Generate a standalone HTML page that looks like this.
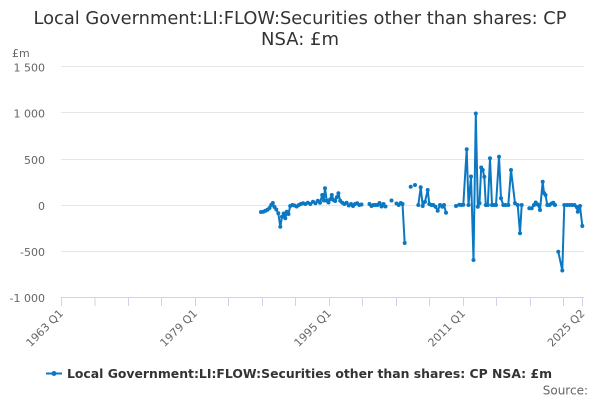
<!DOCTYPE html>
<html>
<head>
<meta charset="utf-8">
<style>
  html, body { margin:0; padding:0; background:#ffffff; }
  svg { display:block; }
  text { font-family: "DejaVu Sans", "Liberation Sans", sans-serif; }
</style>
</head>
<body>
<svg width="600" height="400" viewBox="0 0 600 400" xmlns="http://www.w3.org/2000/svg">
  <rect x="0" y="0" width="600" height="400" fill="#ffffff"/>

  <!-- Title -->
  <text x="300" y="24" text-anchor="middle" font-size="18" fill="#333333" textLength="533" lengthAdjust="spacingAndGlyphs">Local Government:LI:FLOW:Securities other than shares: CP</text>
  <text x="300" y="45" text-anchor="middle" font-size="18" fill="#333333">NSA: £m</text>

  <!-- Y axis title -->
  <text x="12" y="57" font-size="11" fill="#666666">£m</text>

  <!-- Gridlines -->
  <g stroke="#e6e6e6" stroke-width="1">
    <line x1="61" y1="66.5" x2="584" y2="66.5"/>
    <line x1="61" y1="112.5" x2="584" y2="112.5"/>
    <line x1="61" y1="159.5" x2="584" y2="159.5"/>
    <line x1="61" y1="205.5" x2="584" y2="205.5"/>
    <line x1="61" y1="251.5" x2="584" y2="251.5"/>
  </g>

  <!-- Y labels -->
  <g font-size="11" fill="#666666" text-anchor="end">
    <text x="45" y="71.5">1 500</text>
    <text x="45" y="117.5">1 000</text>
    <text x="45" y="164">500</text>
    <text x="45" y="210">0</text>
    <text x="45" y="256">-500</text>
    <text x="45" y="302">-1 000</text>
  </g>

  <!-- X axis line and ticks -->
  <g stroke="#ccd6eb" stroke-width="1">
    <line x1="61" y1="297.5" x2="584" y2="297.5"/>
    <line x1="61.5" y1="297.5" x2="61.5" y2="306"/>
    <line x1="95" y1="297.5" x2="95" y2="306"/>
    <line x1="128.5" y1="297.5" x2="128.5" y2="306"/>
    <line x1="161.5" y1="297.5" x2="161.5" y2="306"/>
    <line x1="195.5" y1="297.5" x2="195.5" y2="306"/>
    <line x1="228.5" y1="297.5" x2="228.5" y2="306"/>
    <line x1="262.5" y1="297.5" x2="262.5" y2="306"/>
    <line x1="295.5" y1="297.5" x2="295.5" y2="306"/>
    <line x1="329.5" y1="297.5" x2="329.5" y2="306"/>
    <line x1="362.5" y1="297.5" x2="362.5" y2="306"/>
    <line x1="396.5" y1="297.5" x2="396.5" y2="306"/>
    <line x1="429.5" y1="297.5" x2="429.5" y2="306"/>
    <line x1="463.5" y1="297.5" x2="463.5" y2="306"/>
    <line x1="496.5" y1="297.5" x2="496.5" y2="306"/>
    <line x1="530.5" y1="297.5" x2="530.5" y2="306"/>
    <line x1="563.5" y1="297.5" x2="563.5" y2="306"/>
    <line x1="582.5" y1="297.5" x2="582.5" y2="306"/>
  </g>

  <!-- X labels -->
  <g font-size="11" fill="#666666" text-anchor="end">
    <text transform="translate(64,314) rotate(-45)">1963 Q1</text>
    <text transform="translate(198,314) rotate(-45)">1979 Q1</text>
    <text transform="translate(332,314) rotate(-45)">1995 Q1</text>
    <text transform="translate(466,314) rotate(-45)">2011 Q1</text>
    <text transform="translate(585.5,314) rotate(-45)">2025 Q2</text>
  </g>

  <!-- Series -->
  <g fill="none" stroke="#0a78c2" stroke-width="2" stroke-linejoin="round" stroke-linecap="round">
    <polyline id="sA" points="261,212 263.3,211.7 265.5,210.8 267.5,209.8 269.5,208 271.2,205 272.8,203 274.5,207 276.3,209.5 278.3,213.3 280.3,226.7 282,216.7 283.7,213.5 285.3,218.3 286.8,211.7 288.5,214 290.2,206 292.3,205 294.5,205.5 296.7,206.5 298.8,205 300.8,204 303,203.3 305.3,204 307.8,202.7 310.3,204 313,201.7 315.5,203.3 317.8,200.7 320,202.7 322.2,195 323.8,200.5 325,188.3 326.8,200.7 328.5,202.5 330.2,199.3 331.8,195 333.5,200 335.2,201 336.8,197.3 338.4,193.3 340.2,200.7 342.3,202.7 344.4,204 346.6,202.7 348.8,205.5 351,204 353,206 355,204 357.2,203.3 359.3,205 361.5,204.5"/>
    <polyline points="369.5,204 371.5,206 373.5,205 375.5,205 377.5,205 379.5,203 381.5,206.5 383.5,204 385.5,206.5"/>
    <polyline points="396.5,203.5 398.7,205 400.8,203 402.5,204 404.7,243"/>
    <polyline points="418.3,205 420.7,187.3 422.7,206 425,201.7 427.7,190 429.3,204 431.3,205 433.3,205 435.5,206.7 437.7,210.7 440,205 442.3,206.7 444,205 446,212.7"/>
    <polyline points="456,206 459.3,204.8 461.3,205 463.3,204.8 466.7,149.3 468.5,205 471,176.5 473.5,260 475.8,113.5 477.8,206.7 479.5,203.3 481.2,167.5 482.8,170 484.3,176.7 485.8,205 487.8,205 490,158.3 492,205 494,205 496,205 499,156.7 501,198.3 503.3,205 505.5,205 508.3,205 511,170 515,203.3 517.7,205 520,233.3 521.7,205"/>
    <polyline points="529.3,208.3 531.7,208.3 534,205 535.7,202.5 537.7,204.5 540,210 542.7,181.7 544,193 545.5,195 547.3,205 549.5,205 551.5,203.5 553.3,202.7 555,205"/>
    <polyline points="558.3,251.7 562.3,270.5 564.3,205 567,205 569.5,205 572,205 574.5,205 576.7,207 577.8,211.7 580,206 582.3,226"/>
  </g>

  <!-- Markers -->
  <g fill="#0a78c2">
    <circle cx="261" cy="212" r="2"/><circle cx="263.3" cy="211.7" r="2"/><circle cx="265.5" cy="210.8" r="2"/><circle cx="267.5" cy="209.8" r="2"/><circle cx="269.5" cy="208" r="2"/><circle cx="271.2" cy="205" r="2"/><circle cx="272.8" cy="203" r="2"/><circle cx="274.5" cy="207" r="2"/><circle cx="276.3" cy="209.5" r="2"/><circle cx="278.3" cy="213.3" r="2"/><circle cx="280.3" cy="226.7" r="2"/><circle cx="282" cy="216.7" r="2"/><circle cx="283.7" cy="213.5" r="2"/><circle cx="285.3" cy="218.3" r="2"/><circle cx="286.8" cy="211.7" r="2"/><circle cx="288.5" cy="214" r="2"/><circle cx="290.2" cy="206" r="2"/><circle cx="292.3" cy="205" r="2"/><circle cx="294.5" cy="205.5" r="2"/><circle cx="296.7" cy="206.5" r="2"/><circle cx="298.8" cy="205" r="2"/><circle cx="300.8" cy="204" r="2"/><circle cx="303" cy="203.3" r="2"/><circle cx="305.3" cy="204" r="2"/><circle cx="307.8" cy="202.7" r="2"/><circle cx="310.3" cy="204" r="2"/><circle cx="313" cy="201.7" r="2"/><circle cx="315.5" cy="203.3" r="2"/><circle cx="317.8" cy="200.7" r="2"/><circle cx="320" cy="202.7" r="2"/><circle cx="322.2" cy="195" r="2"/><circle cx="323.8" cy="200.5" r="2"/><circle cx="325" cy="188.3" r="2"/><circle cx="326.8" cy="200.7" r="2"/><circle cx="328.5" cy="202.5" r="2"/><circle cx="330.2" cy="199.3" r="2"/><circle cx="331.8" cy="195" r="2"/><circle cx="333.5" cy="200" r="2"/><circle cx="335.2" cy="201" r="2"/><circle cx="336.8" cy="197.3" r="2"/><circle cx="338.4" cy="193.3" r="2"/><circle cx="340.2" cy="200.7" r="2"/><circle cx="342.3" cy="202.7" r="2"/><circle cx="344.4" cy="204" r="2"/><circle cx="346.6" cy="202.7" r="2"/><circle cx="348.8" cy="205.5" r="2"/><circle cx="351" cy="204" r="2"/><circle cx="353" cy="206" r="2"/><circle cx="355" cy="204" r="2"/><circle cx="357.2" cy="203.3" r="2"/><circle cx="359.3" cy="205" r="2"/><circle cx="361.5" cy="204.5" r="2"/>
    <circle cx="369.5" cy="204" r="2"/><circle cx="371.5" cy="206" r="2"/><circle cx="373.5" cy="205" r="2"/><circle cx="375.5" cy="205" r="2"/><circle cx="377.5" cy="205" r="2"/><circle cx="379.5" cy="203" r="2"/><circle cx="381.5" cy="206.5" r="2"/><circle cx="383.5" cy="204" r="2"/><circle cx="385.5" cy="206.5" r="2"/>
    <circle cx="391.5" cy="200.5" r="2"/>
    <circle cx="396.5" cy="203.5" r="2"/><circle cx="398.7" cy="205" r="2"/><circle cx="400.8" cy="203" r="2"/><circle cx="402.5" cy="204" r="2"/><circle cx="404.7" cy="243" r="2"/>
    <circle cx="410.7" cy="186.7" r="2"/><circle cx="415" cy="185" r="2"/>
    <circle cx="418.3" cy="205" r="2"/><circle cx="420.7" cy="187.3" r="2"/><circle cx="422.7" cy="206" r="2"/><circle cx="425" cy="201.7" r="2"/><circle cx="427.7" cy="190" r="2"/><circle cx="429.3" cy="204" r="2"/><circle cx="431.3" cy="205" r="2"/><circle cx="433.3" cy="205" r="2"/><circle cx="435.5" cy="206.7" r="2"/><circle cx="437.7" cy="210.7" r="2"/><circle cx="440" cy="205" r="2"/><circle cx="442.3" cy="206.7" r="2"/><circle cx="444" cy="205" r="2"/><circle cx="446" cy="212.7" r="2"/>
    <circle cx="456" cy="206" r="2"/><circle cx="459.3" cy="204.8" r="2"/><circle cx="461.3" cy="205" r="2"/><circle cx="463.3" cy="204.8" r="2"/><circle cx="466.7" cy="149.3" r="2"/><circle cx="468.5" cy="205" r="2"/><circle cx="471" cy="176.5" r="2"/><circle cx="473.5" cy="260" r="2"/><circle cx="475.8" cy="113.5" r="2"/><circle cx="477.8" cy="206.7" r="2"/><circle cx="479.5" cy="203.3" r="2"/><circle cx="481.2" cy="167.5" r="2"/><circle cx="482.8" cy="170" r="2"/><circle cx="484.3" cy="176.7" r="2"/><circle cx="485.8" cy="205" r="2"/><circle cx="487.8" cy="205" r="2"/><circle cx="490" cy="158.3" r="2"/><circle cx="492" cy="205" r="2"/><circle cx="494" cy="205" r="2"/><circle cx="496" cy="205" r="2"/><circle cx="499" cy="156.7" r="2"/><circle cx="501" cy="198.3" r="2"/><circle cx="503.3" cy="205" r="2"/><circle cx="505.5" cy="205" r="2"/><circle cx="508.3" cy="205" r="2"/><circle cx="511" cy="170" r="2"/><circle cx="515" cy="203.3" r="2"/><circle cx="517.7" cy="205" r="2"/><circle cx="520" cy="233.3" r="2"/><circle cx="521.7" cy="205" r="2"/>
    <circle cx="529.3" cy="208.3" r="2"/><circle cx="531.7" cy="208.3" r="2"/><circle cx="534" cy="205" r="2"/><circle cx="535.7" cy="202.5" r="2"/><circle cx="537.7" cy="204.5" r="2"/><circle cx="540" cy="210" r="2"/><circle cx="542.7" cy="181.7" r="2"/><circle cx="544" cy="193" r="2"/><circle cx="545.5" cy="195" r="2"/><circle cx="547.3" cy="205" r="2"/><circle cx="549.5" cy="205" r="2"/><circle cx="551.5" cy="203.5" r="2"/><circle cx="553.3" cy="202.7" r="2"/><circle cx="555" cy="205" r="2"/>
    <circle cx="558.3" cy="251.7" r="2"/><circle cx="562.3" cy="270.5" r="2"/><circle cx="564.3" cy="205" r="2"/><circle cx="567" cy="205" r="2"/><circle cx="569.5" cy="205" r="2"/><circle cx="572" cy="205" r="2"/><circle cx="574.5" cy="205" r="2"/><circle cx="576.7" cy="207" r="2"/><circle cx="577.8" cy="211.7" r="2"/><circle cx="580" cy="206" r="2"/><circle cx="582.3" cy="226" r="2"/>
  </g>

  <!-- Legend -->
  <line x1="46" y1="373.5" x2="62" y2="373.5" stroke="#0a78c2" stroke-width="2"/>
  <circle cx="54" cy="373.5" r="2.5" fill="#0a78c2"/>
  <text x="67" y="378" font-size="12.4" font-weight="bold" fill="#333333" textLength="485" lengthAdjust="spacingAndGlyphs">Local Government:LI:FLOW:Securities other than shares: CP NSA: £m</text>

  <!-- Source -->
  <text x="588" y="394.5" text-anchor="end" font-size="12" fill="#666666">Source:</text>
</svg>
</body>
</html>
